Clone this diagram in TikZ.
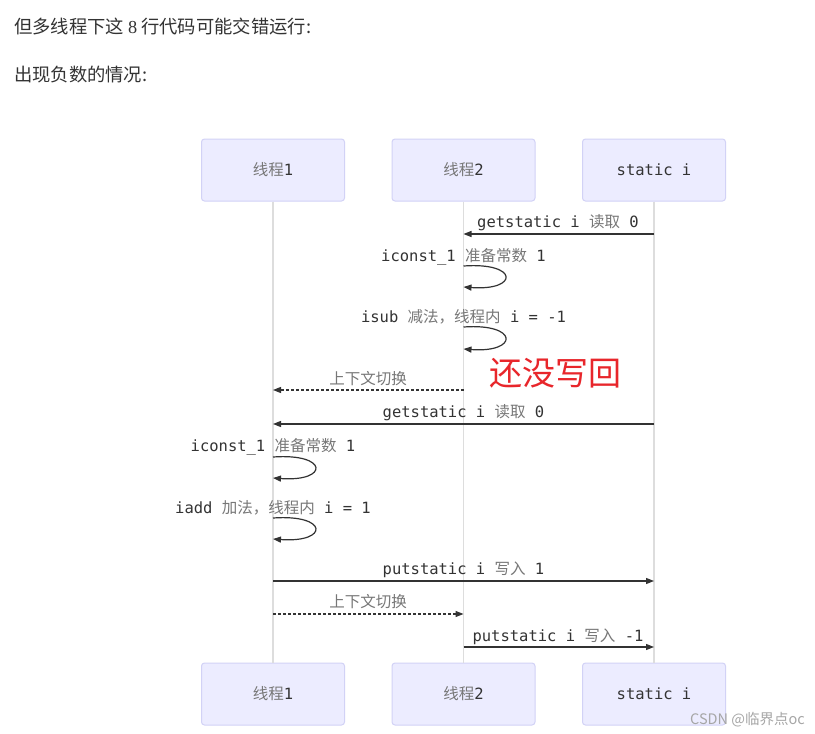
\documentclass[tikz,border=0pt]{standalone}
\usepackage{fontspec}
\setmainfont{Noto Sans CJK SC}
\newfontfamily\zhfont{Noto Sans CJK SC}
\newfontfamily\monofont{DejaVu Sans Mono}
\newfontfamily\seriffont{Liberation Serif}
\usetikzlibrary{arrows.meta}
\definecolor{boxfill}{HTML}{ECECFF}
\definecolor{boxline}{HTML}{D2D2F6}
\definecolor{lifeline}{HTML}{DDDDDD}
\definecolor{ink}{HTML}{333333}
\definecolor{zhgray}{HTML}{777777}
\definecolor{titleink}{HTML}{333333}
\definecolor{warnred}{HTML}{E8262B}
\newcommand{\cd}[1]{{\monofont\color{ink}#1}}
\newcommand{\zh}[1]{{\zhfont\color{zhgray}#1}}
\newcommand{\msp}{{\monofont\ }}
\begin{document}
\begin{tikzpicture}[x=1pt,y=-1pt,
  actor/.style={draw=boxline,fill=boxfill,line width=1pt,rounded corners=3pt,
    minimum width=143pt,minimum height=62pt,inner sep=0pt,font=\fontsize{15.5}{17}\selectfont},
  life/.style={draw=lifeline,line width=1.2pt},
  msg/.style={draw=ink,line width=1.2pt,-{Triangle[length=8pt,width=6pt]}},
  ctx/.style={msg,dash pattern=on 3pt off 2pt},
  lab/.style={font=\fontsize{15.5}{17}\selectfont,inner sep=0pt,anchor=base},
  title/.style={font=\fontsize{18.3}{20}\selectfont,text=titleink,anchor=base west,inner sep=0pt}
]
\useasboundingbox (0,0) rectangle (815,734);
\fill[white] (0,0) rectangle (815,734);

% heading text
\node[title] (h1) at (14,33) {但多线程下这 {\seriffont 8} 行代码可能交错运行:};
\node[title] (h2) at (14,81) {出现负数的情况:};

% actors
\node[actor] (a1) at (273,170) {\zh{线程}\cd{1}};
\node[actor] (a2) at (463.5,170) {\zh{线程}\cd{2}};
\node[actor] (a3) at (654,170) {\cd{static i}};
\node[actor] (b1) at (273,694) {\zh{线程}\cd{1}};
\node[actor] (b2) at (463.5,694) {\zh{线程}\cd{2}};
\node[actor] (b3) at (654,694) {\cd{static i}};

% lifelines
\draw[life] (a1.south) -- (b1.north);
\draw[life] (a2.south) -- (b2.north);
\draw[life] (a3.south) -- (b3.north);

% message end points
\coordinate (m1a) at (654,234);   \coordinate (m1b) at (463.5,234);
\coordinate (l2a) at (463.5,266); \coordinate (l2b) at (463.5,287);
\coordinate (l3a) at (463.5,327); \coordinate (l3b) at (463.5,349);
\coordinate (m4a) at (463.5,390); \coordinate (m4b) at (273,390);
\coordinate (m5a) at (654,424);   \coordinate (m5b) at (273,424);
\coordinate (l6a) at (273,457);   \coordinate (l6b) at (273,478);
\coordinate (l7a) at (273,518);   \coordinate (l7b) at (273,539);
\coordinate (m8a) at (273,581);   \coordinate (m8b) at (654,581);
\coordinate (m9a) at (273,614);   \coordinate (m9b) at (463.5,614);
\coordinate (m10a) at (463.5,647); \coordinate (m10b) at (654,647);

% messages
\draw[msg] (m1a) -- (m1b);
\node[lab] (t1) at (558,227) {\cd{getstatic\msp i}\msp\zh{读取}\msp\cd{0}};

\draw[msg] (l2a) .. controls (519,262) and (519,291) .. (l2b);
\node[lab] (t2) at (463.5,261) {\cd{iconst\_1}\msp\zh{准备常数}\msp\cd{1}};

\draw[msg] (l3a) .. controls (519,323) and (519,353) .. (l3b);
\node[lab] (t3) at (463.5,322) {\cd{isub}\msp\zh{减法，线程内}\msp\cd{i\msp=\msp-1}};

\draw[ctx] (m4a) -- (m4b);
\node[lab] (t4) at (368,384) {\zh{上下文切换}};

\node[font=\fontsize{33}{35}\selectfont,text=warnred,inner sep=0pt,anchor=base west] (warn) at (489,385) {还没写回};

\draw[msg] (m5a) -- (m5b);
\node[lab] (t5) at (463.5,417) {\cd{getstatic\msp i}\msp\zh{读取}\msp\cd{0}};

\draw[msg] (l6a) .. controls (329,453) and (329,482) .. (l6b);
\node[lab] (t6) at (273,451) {\cd{iconst\_1}\msp\zh{准备常数}\msp\cd{1}};

\draw[msg] (l7a) .. controls (329,514) and (329,543) .. (l7b);
\node[lab] (t7) at (273,513) {\cd{iadd}\msp\zh{加法，线程内}\msp\cd{i\msp=\msp1}};

\draw[msg] (m8a) -- (m8b);
\node[lab] (t8) at (463.5,574) {\cd{putstatic\msp i}\msp\zh{写入}\msp\cd{1}};

\draw[ctx] (m9a) -- (m9b);
\node[lab] (t9) at (368,607) {\zh{上下文切换}};

\draw[msg] (m10a) -- (m10b);
\node[lab] (t10) at (558,641) {\cd{putstatic\msp i}\msp\zh{写入}\msp\cd{-1}};

% watermark
\node[font=\fontsize{14.5}{16}\selectfont,text=black!35,anchor=base east,inner sep=0pt] (wm) at (805,724) {CSDN @临界点oc};
\end{tikzpicture}
\end{document}
